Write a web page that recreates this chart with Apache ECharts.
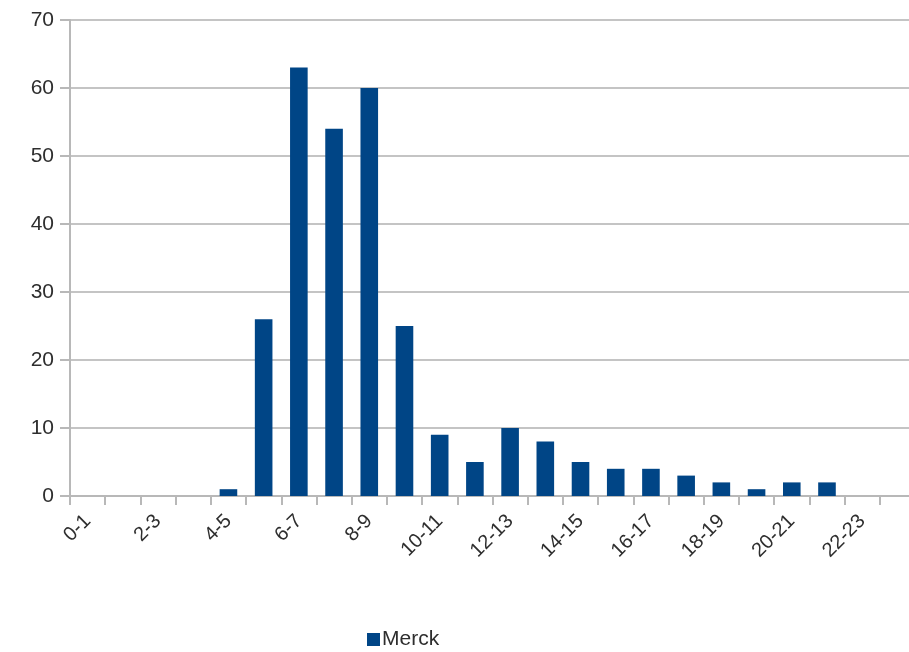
<!DOCTYPE html>
<html>
<head>
<meta charset="utf-8">
<script src="https://cdn.jsdelivr.net/npm/echarts@6/dist/echarts.min.js"></script>
<style>
  html, body { margin: 0; padding: 0; background: #ffffff; overflow: hidden; }
  /* the plot runs a few pixels past the right edge of the window */
  #chart { width: 916px; height: 652px; }
</style>
</head>
<body>
<div id="chart"></div>
<script>
// Hourly bins (one per hour of the day) and the counts for each bin
const categories = ['0-1','1-2','2-3','3-4','4-5','5-6','6-7','7-8','8-9','9-10','10-11','11-12',
                    '12-13','13-14','14-15','15-16','16-17','17-18','18-19','19-20','20-21','21-22','22-23','23-24'];
const merck = [0, 0, 0, 0, 1, 26, 63, 54, 60, 25, 9, 5, 10, 8, 5, 4, 4, 3, 2, 1, 2, 2, 0, 0];
const seriesName = 'Merck';
const yTicks = { min: 0, max: 70, interval: 10 };

const chart = echarts.init(document.getElementById('chart'), null, { renderer: 'canvas' });

const axisGray = '#b8b8b8';
const textColor = '#2e2e2e';
const font = "'Liberation Sans', Arial, sans-serif";

chart.setOption({
  animation: false,
  backgroundColor: '#ffffff',
  grid: { left: 70, top: 20, height: 476, width: 845, containLabel: false },
  legend: {
    data: [seriesName],
    left: 362,
    top: 624,
    icon: 'rect',
    itemWidth: 13,
    itemHeight: 13,
    itemGap: 0,
    textStyle: { fontFamily: font, fontSize: 21, color: textColor, padding: [0, 0, 0, -3] }
  },
  xAxis: {
    type: 'category',
    data: categories,
    boundaryGap: true,
    axisLine: { show: true, lineStyle: { color: axisGray, width: 2 } },
    axisTick: { show: true, alignWithLabel: false, interval: 0, length: 9, lineStyle: { color: axisGray, width: 2 } },
    axisLabel: {
      interval: 1,
      rotate: 45,
      margin: 22,
      fontFamily: font,
      fontSize: 20,
      color: textColor
    },
    splitLine: { show: false }
  },
  yAxis: {
    type: 'value',
    min: yTicks.min,
    max: yTicks.max,
    interval: yTicks.interval,
    axisLine: { show: true, lineStyle: { color: axisGray, width: 2 } },
    axisTick: { show: true, length: 10, lineStyle: { color: axisGray, width: 2 } },
    axisLabel: { margin: 16, fontFamily: font, fontSize: 21, color: textColor },
    splitLine: { show: true, lineStyle: { color: '#c4c4c4', width: 2 } }
  },
  series: [{
    name: seriesName,
    type: 'bar',
    data: merck,
    barWidth: '50%',
    itemStyle: { color: '#004586' }
  }]
});
</script>
</body>
</html>
